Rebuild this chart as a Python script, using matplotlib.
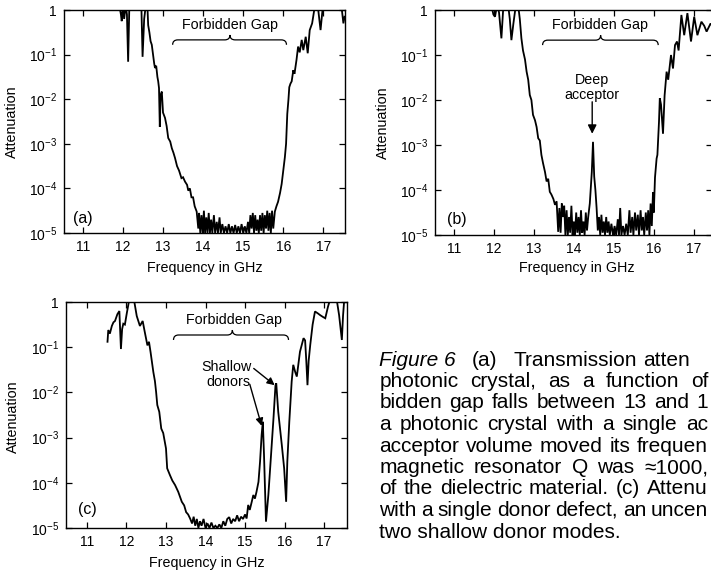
import numpy as np
import matplotlib
matplotlib.use("Agg")
import matplotlib.pyplot as plt
from matplotlib.path import Path
from matplotlib.patches import PathPatch

plt.rcParams['font.family'] = ['Liberation Sans', 'DejaVu Sans']
plt.rcParams['mathtext.fontset'] = 'custom'
plt.rcParams['mathtext.rm'] = 'Liberation Sans'
plt.rcParams['mathtext.it'] = 'Liberation Sans:italic'
plt.rcParams['mathtext.bf'] = 'Liberation Sans:bold'

# ---------------- data (frequency in GHz, log10 attenuation) ----------------
freq_a = [11.91, 11.95, 11.97, 12.00, 12.03, 12.07, 12.10, 12.13, 12.16, 12.20,
          12.30, 12.40, 12.46, 12.49, 12.53, 12.57, 12.61, 12.63, 12.66, 12.69,
          12.72, 12.75, 12.78, 12.80, 12.83, 12.86, 12.88, 12.90, 12.92, 12.94,
          12.97, 13.00, 13.05, 13.09, 13.13, 13.18, 13.22, 13.26, 13.30, 13.35,
          13.40, 13.46, 13.50, 13.55, 13.60, 13.63, 13.67, 13.71, 13.75, 13.79,
          13.84, 13.88,
          13.90, 13.93, 13.96, 13.99, 14.02, 14.05, 14.08, 14.11, 14.14, 14.17,
          14.20, 14.23, 14.27, 14.30, 14.34, 14.37, 14.41, 14.44, 14.48, 14.52,
          14.56, 14.60, 14.64, 14.68, 14.72, 14.76, 14.80, 14.84, 14.88, 14.92,
          14.96, 15.00, 15.04, 15.08, 15.12, 15.15, 15.18, 15.21, 15.24, 15.27,
          15.30, 15.33, 15.36, 15.39, 15.42, 15.45, 15.48, 15.51, 15.54, 15.57,
          15.60, 15.63, 15.66, 15.69, 15.72, 15.75, 15.79,
          15.83, 15.87, 15.92, 15.96, 16.00, 16.04, 16.07, 16.10, 16.13, 16.15,
          16.18, 16.21, 16.25, 16.28, 16.33, 16.37, 16.41, 16.46, 16.50, 16.56,
          16.61, 16.66, 16.72, 16.79, 16.86, 16.93, 16.99, 17.20, 17.45, 17.50,
          17.53]
logatt_a = [0.1, -0.1, -0.25, 0.1, -0.2, 0.1, -0.1, -1.16, 0.1, 0.1,
            0.1, 0.1, 0.1, -1.05, -0.2, 0.1, 0.1, -0.34, -0.5, -0.7,
            -0.78, -1.0, -1.2, -1.3, -1.25, -1.5, -1.6, -1.75, -2.62, -1.9,
            -1.83, -2.3, -2.42, -2.6, -2.87, -2.95, -3.1, -3.2, -3.32, -3.5,
            -3.6, -3.77, -3.75, -3.85, -3.92, -4.05, -4.0, -4.2, -4.2, -4.4,
            -4.52, -4.9,
            -4.55, -5.0, -4.6, -5.0, -4.5, -5.0, -4.65, -5.0, -4.55, -5.0,
            -4.7, -5.0, -4.6, -5.0, -4.75, -5.0, -4.65, -5.0, -4.8, -5.0,
            -4.85, -5.0, -4.8, -5.0, -4.85, -5.0, -4.82, -5.0, -4.85, -5.0,
            -4.8, -5.0, -4.85, -5.0, -4.75, -5.0, -4.6, -4.9, -4.55, -5.0,
            -4.6, -4.95, -4.7, -5.0, -4.6, -4.95, -4.55, -5.0, -4.6, -4.9,
            -4.5, -4.95, -4.55, -5.0, -4.5, -4.9, -4.52,
            -4.4, -4.3, -4.1, -3.9, -3.6, -3.3, -3.0, -2.33, -2.0, -1.73,
            -1.65, -1.6, -1.35, -1.43, -1.12, -0.82, -0.95, -0.67, -0.9, -0.6,
            -0.97, -0.45, -0.3, 0.1, 0.1, -0.45, 0.1, 0.1, 0.1, -0.3,
            -0.15]

freq_b = [11.94, 11.99, 12.03, 12.08, 12.13, 12.19, 12.24, 12.30, 12.36, 12.40,
          12.44, 12.49, 12.55, 12.61, 12.65, 12.69, 12.73, 12.78, 12.82, 12.86,
          12.90, 12.94, 12.98, 13.03, 13.07, 13.11, 13.15, 13.19, 13.23, 13.28,
          13.32, 13.36, 13.40, 13.44, 13.49, 13.53, 13.57,
          13.61, 13.64, 13.67, 13.70, 13.73, 13.76, 13.79, 13.82, 13.85, 13.88,
          13.91, 13.94, 13.97, 14.00, 14.03, 14.06, 14.09, 14.12, 14.15, 14.18,
          14.21, 14.24, 14.27, 14.30, 14.33, 14.36, 14.40, 14.43, 14.45, 14.48,
          14.51, 14.54, 14.57, 14.60, 14.63, 14.66, 14.69, 14.72, 14.75, 14.78,
          14.81, 14.84, 14.87, 14.90, 14.94, 14.98, 15.02, 15.06, 15.10, 15.13,
          15.16, 15.19, 15.23, 15.27, 15.31, 15.35, 15.39, 15.42, 15.46, 15.49,
          15.53, 15.56, 15.60, 15.63, 15.67, 15.70, 15.73, 15.76, 15.80, 15.83,
          15.86, 15.89, 15.92, 15.95, 15.98, 16.00, 16.03,
          16.07, 16.09, 16.13, 16.15, 16.18, 16.23, 16.27, 16.32, 16.36, 16.43,
          16.48, 16.53, 16.58, 16.62, 16.69, 16.76, 16.84, 16.93, 17.01, 17.09,
          17.19, 17.26, 17.32, 17.42, 17.46]
logatt_b = [0.1, -0.1, -0.15, 0.1, -0.05, -0.63, 0.1, 0.1, 0.1, -0.2,
            -0.67, -0.3, 0.1, 0.1, -0.2, -0.63, -0.9, -1.1, -1.37, -1.55,
            -1.89, -2.0, -2.33, -2.45, -2.6, -2.85, -2.9, -3.22, -3.4, -3.6,
            -3.81, -3.75, -4.04, -4.1, -4.2, -4.33, -4.25,
            -4.93, -4.4, -4.95, -4.3, -4.6, -4.35, -5.0, -4.45, -5.0, -4.6,
            -4.95, -4.35, -5.0, -4.7, -5.0, -4.5, -4.95, -4.6, -5.0, -4.45,
            -4.95, -4.7, -5.0, -4.5, -4.9, -4.6, -4.3, -3.9, -3.6, -2.93,
            -3.7, -4.0, -4.4, -4.9, -4.6, -5.0, -4.55, -4.95, -4.7, -5.0,
            -4.6, -4.95, -4.7, -5.0, -4.75, -5.0, -4.8, -5.0, -4.65, -5.0,
            -4.4, -5.0, -4.8, -5.0, -4.75, -5.0, -4.45, -4.95, -4.6, -5.0,
            -4.5, -4.9, -4.55, -5.0, -4.45, -4.9, -4.6, -5.0, -4.5, -4.9,
            -4.45, -5.0, -4.3, -4.8, -4.05, -4.5, -3.72,
            -3.3, -3.22, -2.48, -1.96, -2.1, -2.75, -1.9, -1.37, -1.55, -1.0,
            -1.3, -0.78, -0.7, -0.9, -0.11, -0.56, -0.07, -0.7, -0.15, -0.56,
            -0.26, -0.35, -0.48, -0.3, -0.35]

freq_c = [11.52, 11.54, 11.58, 11.63, 11.67, 11.71, 11.77, 11.82, 11.86, 11.89,
          11.92, 11.96, 12.01, 12.07, 12.13, 12.19, 12.26, 12.34, 12.41, 12.46,
          12.53, 12.57, 12.61, 12.68, 12.72, 12.75, 12.78, 12.83, 12.88, 12.93,
          13.00, 13.03, 13.10, 13.16, 13.23, 13.31, 13.40, 13.46, 13.51, 13.56,
          13.61,
          13.66, 13.70, 13.74, 13.78, 13.82, 13.86, 13.90, 13.95, 14.00, 14.05,
          14.10, 14.15, 14.20, 14.25, 14.30, 14.35, 14.40, 14.45, 14.50, 14.55,
          14.60, 14.65, 14.70, 14.75, 14.80, 14.85, 14.90, 14.95, 15.00, 15.04,
          15.08, 15.12, 15.17, 15.21, 15.25, 15.29, 15.34, 15.38, 15.42, 15.45,
          15.48, 15.53, 15.59, 15.65, 15.72, 15.77, 15.79, 15.84, 15.93, 15.99,
          16.04, 16.07, 16.12, 16.18, 16.22, 16.27, 16.31, 16.39, 16.48, 16.52,
          16.55, 16.58, 16.61, 16.65, 16.71, 16.77, 16.84, 16.90, 16.97, 17.03,
          17.10, 17.15, 17.32, 17.38, 17.45, 17.48, 17.51, 17.55]
logatt_c = [-0.88, -0.62, -0.7, -0.53, -0.45, -0.42, -0.27, -0.2, -1.04, -0.6,
            -0.48, -0.5, -0.24, 0.05, 0.05, 0.05, -0.31, -0.53, -0.42, -0.65,
            -0.96, -0.88, -1.11, -1.55, -1.75, -1.99, -2.28, -2.43, -2.8, -2.9,
            -3.24, -3.68, -3.83, -3.95, -4.05, -4.2, -4.42, -4.5, -4.65, -4.7,
            -4.79,
            -4.9, -4.75, -4.95, -4.8, -5.0, -4.85, -4.95, -4.8, -5.0, -4.9,
            -5.0, -4.88, -5.0, -4.95, -5.0, -4.92, -5.0, -4.85, -4.95, -4.8,
            -4.76, -4.9, -4.8, -4.85, -4.72, -4.85, -4.75, -4.8, -4.7, -4.79,
            -4.49, -4.6, -4.42, -4.27, -4.35, -4.2, -3.98, -3.53, -2.94, -2.65,
            -3.38, -4.86, -4.27, -3.49, -2.57, -1.85, -1.8, -2.43, -3.16, -3.68,
            -4.42, -3.53, -2.65, -1.76, -1.39, -1.55, -1.65, -1.1, -0.8, -0.85,
            -1.3, -1.84, -1.3, -0.95, -0.5, -0.21, -0.25, -0.29, -0.33, -0.36,
            -0.1, 0.05, 0.05, -0.29, -0.84, -0.3, 0.05, 0.05]

xticks = [11, 12, 13, 14, 15, 16, 17]
yticks = [1e-5, 1e-4, 1e-3, 1e-2, 1e-1, 1]
ytick_labels = [r'$10^{-5}$', r'$10^{-4}$', r'$10^{-3}$', r'$10^{-2}$', r'$10^{-1}$', '1']
panel_tags = ['(a)', '(b)', '(c)']

# caption as visible in the (cropped) reference
caption_first_words = ['Figure 6', '(a)', 'Transmission', 'atten']
caption_lines = [
    "photonic crystal, as a function of",
    "bidden gap falls between 13 and 1",
    "a photonic crystal with a single ac",
    "acceptor volume moved its frequen",
    "magnetic resonator Q was \u22481000,",
    "of the dielectric material. (c) Attenu",
    "with a single donor defect, an uncen",
    "two shallow donor modes.",
]

# ---------------- figure ----------------
W, H = 711, 571
fig = plt.figure(figsize=(W / 100, H / 100), dpi=100)
fig.patch.set_facecolor('white')
renderer = fig.canvas.get_renderer()


def add_axes_px(left, top, right, bottom):
    return fig.add_axes([left / W, 1 - bottom / H, (right - left) / W, (bottom - top) / H])


def style(ax, xlim):
    ax.set_yscale('log')
    ax.set_xlim(*xlim)
    ax.set_ylim(1e-5, 1)
    ax.set_xticks(xticks)
    ax.set_xticklabels([str(t) for t in xticks])
    ax.set_yticks(yticks)
    ax.set_yticklabels(ytick_labels)
    ax.minorticks_off()
    ax.tick_params(direction='in', top=True, right=True, length=4, width=0.9,
                   labelsize=10, pad=5)
    for s in ax.spines.values():
        s.set_linewidth(1.0)


def brace(ax, x0, x1, xm, y_end, y_line, y_tip, r=0.13):
    pts = [(x0, y_end), (x0, y_line), (x0 + r, y_line),
           (xm - r, y_line), (xm, y_line), (xm, y_tip),
           (xm, y_line), (xm + r, y_line),
           (x1 - r, y_line), (x1, y_line), (x1, y_end)]
    verts = [(x, 10 ** y) for x, y in pts]
    codes = [Path.MOVETO, Path.CURVE3, Path.CURVE3,
             Path.LINETO, Path.CURVE3, Path.CURVE3,
             Path.CURVE3, Path.CURVE3,
             Path.LINETO, Path.CURVE3, Path.CURVE3]
    ax.add_patch(PathPatch(Path(verts, codes), fill=False, lw=0.9,
                           edgecolor='black', transform=ax.transData,
                           clip_on=False))


ax_a = add_axes_px(64, 10, 345, 233)
ax_b = add_axes_px(435, 10, 712, 235)
ax_c = add_axes_px(66, 302, 347, 528)

panels = [(ax_a, freq_a, logatt_a, (10.53, 17.54)),
          (ax_b, freq_b, logatt_b, (10.53, 17.455)),
          (ax_c, freq_c, logatt_c, (10.47, 17.58))]

for ax, f, la, xl in panels:
    style(ax, xl)
    ax.plot(f, 10 ** np.array(la), color='black', lw=1.3, solid_joinstyle='miter')

# panel tags
ax_a.text(0.032, 0.066, panel_tags[0], transform=ax_a.transAxes, fontsize=11.5,
          ha='left', va='center')
ax_b.text(0.042, 0.067, panel_tags[1], transform=ax_b.transAxes, fontsize=11.5,
          ha='left', va='center')
ax_c.text(0.043, 0.08, panel_tags[2], transform=ax_c.transAxes, fontsize=11.5,
          ha='left', va='center')

# Forbidden gap braces
ax_a.text(14.67, 10 ** -0.34, 'Forbidden Gap', fontsize=10.3, ha='center', va='center')
brace(ax_a, 13.24, 16.08, 14.67, -0.78, -0.67, -0.56)
ax_b.text(14.65, 10 ** -0.33, 'Forbidden Gap', fontsize=10.3, ha='center', va='center')
brace(ax_b, 13.22, 16.11, 14.67, -0.78, -0.67, -0.56)
ax_c.text(14.71, 10 ** -0.40, 'Forbidden Gap', fontsize=10.3, ha='center', va='center')
brace(ax_c, 13.19, 16.10, 14.68, -0.84, -0.73, -0.62)

# Deep acceptor
ax_b.text(14.46, 10 ** -1.56, 'Deep', fontsize=10.3, ha='center', va='center')
ax_b.text(14.46, 10 ** -1.89, 'acceptor', fontsize=10.3, ha='center', va='center')
ax_b.annotate('', xy=(14.46, 10 ** -2.75), xytext=(14.46, 10 ** -2.04),
              arrowprops=dict(arrowstyle='-|>', color='black', lw=1.0,
                              mutation_scale=13, shrinkA=0, shrinkB=0))

# Shallow donors
ax_c.text(14.54, 10 ** -1.43, 'Shallow', fontsize=10.3, ha='center', va='center')
ax_c.text(14.58, 10 ** -1.76, 'donors', fontsize=10.3, ha='center', va='center')
ax_c.annotate('', xy=(15.75, 10 ** -1.84), xytext=(15.22, 10 ** -1.47),
              arrowprops=dict(arrowstyle='-|>', color='black', lw=1.0,
                              mutation_scale=11, shrinkA=0, shrinkB=0))
ax_c.annotate('', xy=(15.42, 10 ** -2.74), xytext=(15.12, 10 ** -1.82),
              arrowprops=dict(arrowstyle='-|>', color='black', lw=1.0,
                              mutation_scale=11, shrinkA=0, shrinkB=0))

# axis labels
for (xc, yc) in [(12, 122), (383, 123), (13, 417)]:
    fig.text(xc / W, 1 - yc / H, 'Attenuation', rotation=90, fontsize=10.3,
             ha='center', va='center')
for (xc, yc) in [(205, 268), (577, 268), (207, 563)]:
    fig.text(xc / W, 1 - yc / H, 'Frequency in GHz', fontsize=10.3,
             ha='center', va='center')

# caption (justified lines like the typeset original)
cap_size = 15.0
base0 = 365.5
left_px = 379.3
right_px = 708.0
first_x = [379.3, 471.7, 513.3, 643.3]
for i, (word, xw) in enumerate(zip(caption_first_words, first_x)):
    fig.text(xw / W, 1 - base0 / H, word, fontsize=cap_size,
             style='italic' if i == 0 else 'normal', ha='left', va='baseline')

for i, line in enumerate(caption_lines):
    yb = base0 + 21.5 * (i + 1)
    if i == len(caption_lines) - 1:
        fig.text(left_px / W, 1 - yb / H, line, fontsize=cap_size,
                 ha='left', va='baseline')
        continue
    words = line.split(' ')
    texts = [fig.text(0, 1 - yb / H, w, fontsize=cap_size, ha='left', va='baseline')
             for w in words]
    widths = [t.get_window_extent(renderer).width for t in texts]
    gap = (right_px - left_px - sum(widths)) / max(len(words) - 1, 1)
    gap = min(gap, 14.0)
    x = left_px
    for t, wdt in zip(texts, widths):
        t.set_x(x / W)
        x += wdt + gap

fig.savefig('out.png', dpi=100)
